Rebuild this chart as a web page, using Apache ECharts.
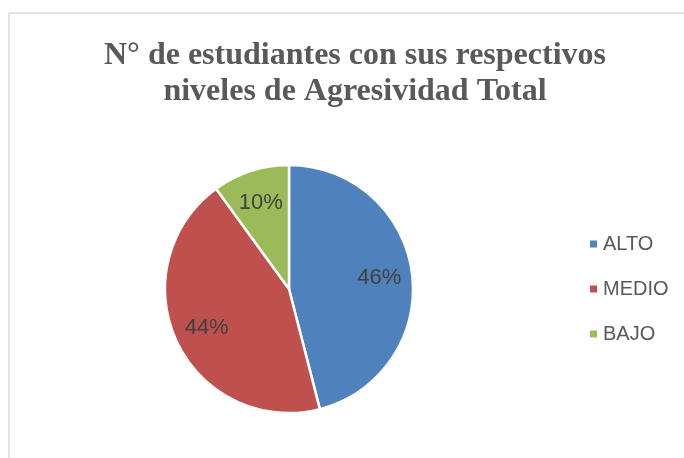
<!DOCTYPE html>
<html>
<head>
<meta charset="utf-8">
<script src="https://cdn.jsdelivr.net/npm/echarts@6/dist/echarts.min.js"></script>
<style>
  html, body { margin: 0; padding: 0; background: #fff; }
  #chart { width: 684px; height: 458px; }
</style>
</head>
<body>
<div id="chart"></div>
<script>
// niveles de agresividad total (porcentaje de estudiantes)
var categories = ['ALTO', 'MEDIO', 'BAJO'];
var values = [46, 44, 10];
var colors = ['#4f81bd', '#c0504d', '#9bbb59'];

var pieData = categories.map(function (name, i) {
    return { name: name, value: values[i], itemStyle: { color: colors[i] } };
});

var chart = echarts.init(document.getElementById('chart'));
chart.setOption({
    animation: false,
    backgroundColor: '#fff',
    graphic: [{
        type: 'rect',
        shape: { x: 9, y: 13, width: 720, height: 500 },
        style: { fill: 'none', stroke: '#d9d9d9', lineWidth: 1.5 },
        silent: true
    }],
    title: {
        text: 'N° de estudiantes con sus respectivos\nniveles de Agresividad Total',
        left: 350,
        textAlign: 'center',
        top: 33,
        textStyle: {
            fontFamily: 'Liberation Serif',
            fontWeight: 'bold',
            fontSize: 32,
            lineHeight: 36,
            color: '#595959'
        }
    },
    legend: {
        orient: 'vertical',
        left: 583,
        top: 229,
        itemWidth: 9,
        itemHeight: 9,
        itemGap: 25,
        icon: 'rect',
        data: categories,
        textStyle: {
            fontFamily: 'Liberation Sans',
            fontSize: 20,
            lineHeight: 20,
            color: '#595959',
            padding: [0, 0, 0, 0]
        }
    },
    series: [{
        type: 'pie',
        center: [289, 289],
        radius: 124,
        startAngle: 90,
        clockwise: true,
        silent: true,
        label: { show: false },
        labelLine: { show: false },
        itemStyle: { borderColor: '#fff', borderWidth: 2.5 },
        data: pieData
    }, {
        // capa transparente solo para ubicar las etiquetas
        type: 'pie',
        center: [289, 289],
        radius: [52, 124],
        startAngle: 90,
        clockwise: true,
        silent: true,
        itemStyle: { color: 'rgba(0,0,0,0)' },
        label: {
            show: true,
            position: 'inside',
            formatter: '{c}%',
            fontFamily: 'Liberation Sans',
            fontSize: 22,
            color: '#404040'
        },
        labelLine: { show: false },
        data: categories.map(function (name, i) {
            return { name: name, value: values[i] };
        })
    }]
});
</script>
</body>
</html>
